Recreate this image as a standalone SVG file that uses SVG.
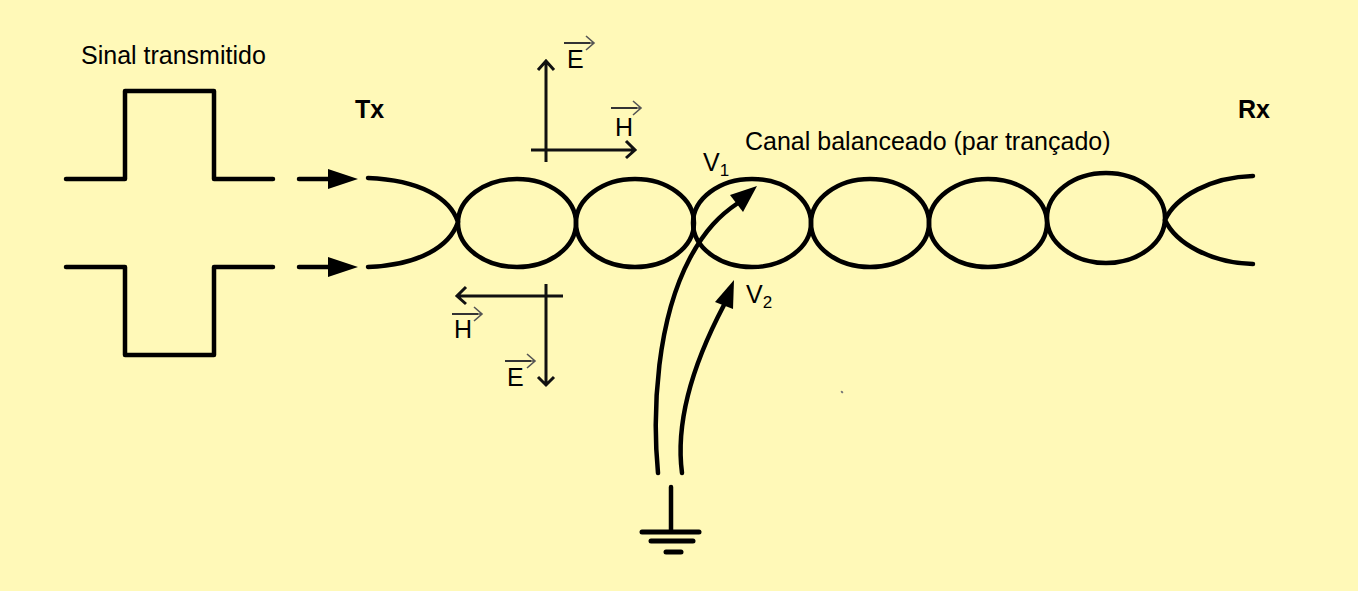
<svg xmlns="http://www.w3.org/2000/svg" width="1358" height="591" viewBox="0 0 1358 591">
<defs>
<style>
.w{fill:none;stroke:#000;stroke-width:4.5;stroke-linecap:round;stroke-linejoin:round}
.g{fill:none;stroke:#000;stroke-width:5;stroke-linecap:round}
.t{fill:none;stroke:#111;stroke-width:3;stroke-linecap:butt;stroke-linejoin:miter}
.v{fill:none;stroke:#555;stroke-width:1.6}
.vb{fill:none;stroke:#333;stroke-width:2}
.h{fill:#000}
text{font-family:"Liberation Sans",Arial,sans-serif;font-size:25px;fill:#000}
.b{font-weight:bold}
.s{font-size:17px}
</style>
<g id="ev"><path class="vb" d="M0 0H26"/><path class="v" d="M26 0H30M22 -7L30 0L22 7"/></g>
</defs>
<rect width="1358" height="591" fill="#FFF9B8"/>
<g id="connectors">
<path class="w" d="M66 179H125V91H214V179H273"/>
<path class="w" d="M66 267H125V355H214V267H273"/>
<path class="w" d="M299 179H332"/><path class="h" d="M328 169L358 179L328 189Z"/>
<path class="w" d="M299 267H332"/><path class="h" d="M328 257L358 267L328 277Z"/>
<path class="t" d="M546 162V61M538 70L546 61L554 70"/>
<path class="t" d="M531 150H635M626 141L635 150L626 158"/>
<path class="t" d="M563 296H457M466 287L457 296L466 304"/>
<path class="t" d="M546 284V385M538 377L546 385L554 377"/>
<path class="w" d="M658 473C652 410 657 320 690 258C705 230 720 215 738 203"/>
<path class="h" d="M730 195L757 186L743 212Z"/>
<path class="w" d="M682 473C675 420 695 360 724 305"/>
<path class="h" d="M715 302L734 280L733 309Z"/>
</g>
<g id="twisted-pair">
<path class="w" d="M368 178C420 180 450 198 458 222C450 246 420 265 368 267"/>
<ellipse class="w" cx="517" cy="223" rx="59" ry="44"/>
<ellipse class="w" cx="635" cy="223" rx="59" ry="44"/>
<ellipse class="w" cx="752" cy="223" rx="59" ry="44"/>
<ellipse class="w" cx="870" cy="223" rx="59" ry="44"/>
<ellipse class="w" cx="988" cy="223" rx="59" ry="44"/>
<ellipse class="w" cx="1106" cy="218" rx="59" ry="45"/>
<path class="w" d="M1253 176C1212 177 1176 196 1165 220C1176 244 1212 263 1253 264"/>
</g>
<g id="ground">
<path class="w" d="M671 487V530"/>
<path class="g" d="M642 532H699"/>
<path class="g" d="M651 541H693"/>
<path class="g" d="M666 552H681"/>
</g>
<g id="labels">
<text x="81" y="64">Sinal transmitido</text>
<text class="b" x="355" y="118">Tx</text>
<text class="b" x="1238" y="118">Rx</text>
<text x="745" y="150">Canal balanceado (par trançado)</text>
<text x="703" y="171">V<tspan class="s" dy="5">1</tspan></text>
<text x="746" y="303">V<tspan class="s" dy="5">2</tspan></text>
<text x="567" y="68">E</text><use href="#ev" x="564" y="43"/>
<text x="615" y="136">H</text><use href="#ev" x="611" y="108"/>
<text x="454" y="338">H</text><use href="#ev" x="452" y="314"/>
<text x="507" y="386">E</text><use href="#ev" x="505" y="361"/>
</g>
<ellipse cx="842" cy="392" rx="1.5" ry="1" fill="#777" transform="rotate(45 842 392)"/>
</svg>
